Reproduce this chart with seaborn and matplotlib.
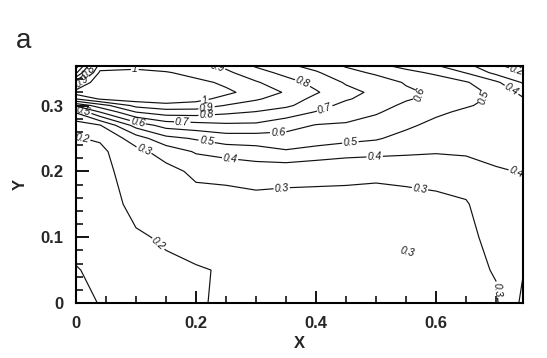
import numpy as np
import pandas as pd
import matplotlib
matplotlib.use("Agg")
import matplotlib.pyplot as plt
import seaborn as sns
from matplotlib.ticker import MultipleLocator, FixedLocator

# ---- data (grid of field values) ----
x_grid = [0, 0.04, 0.1, 0.15, 0.2, 0.25, 0.3, 0.35, 0.4, 0.45, 0.5, 0.55, 0.6, 0.65, 0.7, 0.745]
y_grid = [0, 0.05, 0.1, 0.15, 0.2, 0.23, 0.25, 0.27, 0.29, 0.30, 0.31, 0.32, 0.335, 0.35, 0.36]

col_000 = [0.24, 0.205, 0.17, 0.165, 0.175, 0.185, 0.195, 0.25, 0.41, 0.62, 0.9, 1.05, 0.85, 0.58, 0.45]
col_004 = [0.195, 0.18, 0.16, 0.155, 0.165, 0.18, 0.21, 0.295, 0.6, 0.75, 1.01, 1.08, 1.1, 1.02, 0.95]
col_010 = [0.16, 0.17, 0.19, 0.225, 0.255, 0.27, 0.35, 0.54, 0.8, 0.93, 1.05, 1.1, 1.12, 1.05, 0.95]
col_015 = [0.17, 0.185, 0.21, 0.25, 0.27, 0.34, 0.47, 0.64, 0.85, 0.97, 1.06, 1.1, 1.1, 1.01, 0.94]
col_020 = [0.18, 0.195, 0.225, 0.26, 0.32, 0.41, 0.51, 0.66, 0.85, 0.96, 1.03, 1.06, 1.03, 0.96, 0.93]
col_025 = [0.23, 0.205, 0.235, 0.27, 0.322, 0.44, 0.55, 0.68, 0.82, 0.895, 0.97, 1.02, 0.98, 0.92, 0.88]
col_030 = [0.24, 0.23, 0.24, 0.27, 0.34, 0.46, 0.55, 0.68, 0.795, 0.86, 0.91, 0.96, 0.91, 0.84, 0.79]
col_035 = [0.25, 0.24, 0.245, 0.27, 0.33, 0.49, 0.56, 0.64, 0.75, 0.82, 0.86, 0.89, 0.84, 0.77, 0.72]
col_040 = [0.26, 0.25, 0.25, 0.285, 0.313, 0.47, 0.54, 0.595, 0.695, 0.74, 0.77, 0.81, 0.77, 0.71, 0.67]
col_045 = [0.27, 0.26, 0.26, 0.28, 0.315, 0.44, 0.53, 0.59, 0.64, 0.67, 0.71, 0.73, 0.69, 0.64, 0.59]
col_050 = [0.28, 0.27, 0.27, 0.28, 0.311, 0.43, 0.51, 0.56, 0.61, 0.64, 0.66, 0.68, 0.66, 0.58, 0.53]
col_055 = [0.285, 0.28, 0.28, 0.285, 0.313, 0.42, 0.465, 0.52, 0.56, 0.58, 0.61, 0.62, 0.59, 0.53, 0.47]
col_060 = [0.29, 0.285, 0.285, 0.29, 0.315, 0.41, 0.44, 0.47, 0.52, 0.55, 0.57, 0.58, 0.56, 0.48, 0.41]
col_065 = [0.28, 0.28, 0.285, 0.295, 0.33, 0.42, 0.44, 0.46, 0.48, 0.51, 0.53, 0.53, 0.51, 0.395, 0.33]
col_070 = [0.29, 0.305, 0.32, 0.34, 0.39, 0.43, 0.44, 0.45, 0.46, 0.47, 0.48, 0.48, 0.42, 0.27, 0.22]
col_0745 = [0.42, 0.395, 0.37, 0.37, 0.405, 0.42, 0.43, 0.44, 0.44, 0.43, 0.41, 0.37, 0.29, 0.205, 0.15]

levels = [0.2, 0.3, 0.4, 0.5, 0.6, 0.7, 0.8, 0.9, 1.0]
x_ticks = [0, 0.2, 0.4, 0.6]
y_ticks = [0, 0.1, 0.2, 0.3]
x_tick_labels = ["0", "0.2", "0.4", "0.6"]
y_tick_labels = ["0", "0.1", "0.2", "0.3"]
stray_label = "0.3"

# label anchor points (where the contour labels sit in the picture)
label_points = [(0.098, 0.354), (0.215, 0.306), (0.235, 0.357), (0.218, 0.294),
                (0.218, 0.282), (0.378, 0.335), (0.177, 0.271), (0.415, 0.294),
                (0.103, 0.275), (0.337, 0.259), (0.573, 0.317), (0.218, 0.247),
                (0.457, 0.247), (0.685, 0.312), (0.257, 0.221), (0.498, 0.218),
                (0.732, 0.195), (0.728, 0.327), (0.012, 0.289), (0.115, 0.236),
                (0.343, 0.172), (0.573, 0.172), (0.70, 0.02), (0.14, 0.093),
                (0.012, 0.259), (0.735, 0.355), (0.018, 0.352), (0.01, 0.337)]

columns = [col_000, col_004, col_010, col_015, col_020, col_025, col_030, col_035,
           col_040, col_045, col_050, col_055, col_060, col_065, col_070, col_0745]
df = pd.DataFrame({xv: col for xv, col in zip(x_grid, columns)}, index=y_grid)

# ---- figure ----
sns.set_theme(style="white")
plt.rcParams["font.family"] = ["Liberation Sans", "DejaVu Sans"]

fig = plt.figure(figsize=(5.47, 3.58), dpi=100)
ax = fig.add_axes([76 / 547, 1 - 303 / 358, (523 - 76) / 547, (303 - 66) / 358])

X, Y = np.meshgrid(df.columns.values.astype(float), df.index.values.astype(float))
cs = ax.contour(X, Y, df.values, levels=levels, colors="#111111", linewidths=0.85)
ax.clabel(cs, inline=True, inline_spacing=1, fontsize=7.5,
          fmt=lambda v: f"{v:g}", manual=label_points)
for t in cs.labelTexts:
    t.set_fontstyle("italic")

ax.text(0.552, 0.078, stray_label, fontsize=7.5, style="italic", rotation=-15,
        ha="center", va="center", color="#111111")

ax.set_xlim(0, 0.745)
ax.set_ylim(0, 0.36)
ax.xaxis.set_major_locator(FixedLocator(x_ticks))
ax.yaxis.set_major_locator(FixedLocator(y_ticks))
ax.set_xticklabels(x_tick_labels)
ax.set_yticklabels(y_tick_labels)
ax.xaxis.set_minor_locator(MultipleLocator(0.05))
ax.yaxis.set_minor_locator(MultipleLocator(0.02))
ax.tick_params(which="both", direction="in", top=False, right=False,
               left=True, bottom=True, color="black")
ax.tick_params(which="major", length=9, width=1.3, labelsize=12, pad=9)
ax.tick_params(which="minor", length=5, width=1.1)
for lab in ax.get_xticklabels() + ax.get_yticklabels():
    lab.set_fontweight("bold")
for sp in ax.spines.values():
    sp.set_color("black")
    sp.set_linewidth(1.5)

ax.set_xlabel("X", fontsize=12, fontweight="bold", labelpad=4)
ax.set_ylabel("Y", fontsize=12, fontweight="bold", labelpad=9)
fig.text(16 / 547, 1 - 48 / 358, "a", fontsize=20, ha="left", va="baseline")

fig.savefig("out.png", dpi=100)
